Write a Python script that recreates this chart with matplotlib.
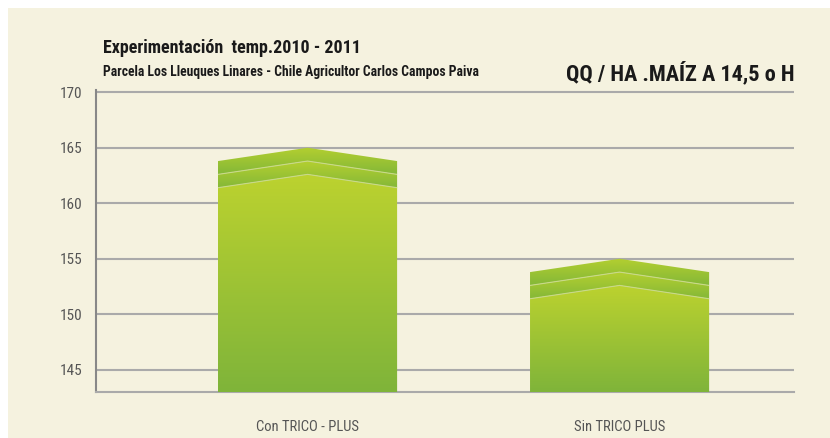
#!/usr/bin/env python3
"""Bar chart: QQ / HA maiz, con y sin TRICO-PLUS (temp. 2010 - 2011)."""

import numpy as np
import matplotlib

matplotlib.use("Agg")
import matplotlib.pyplot as plt
from matplotlib import font_manager
from matplotlib.colors import LinearSegmentedColormap
from matplotlib.patches import Polygon, Rectangle

categories = ["Con TRICO - PLUS", "Sin TRICO PLUS"]
values = [165.0, 155.0]
y_ticks = [145, 150, 155, 160, 165, 170]

title = "Experimentación  temp.2010 - 2011"
subtitle = "Parcela Los Lleuques Linares - Chile Agricultor Carlos Campos Paiva"
unit_title = "QQ / HA .MAÍZ A 14,5 o H"

BG = "#f5f2df"
GRID = "#aaaaaa"
N_BANDS = 2
BEVEL = 1.2  # drop of each chevron layer, data units
BAR_W = 0.574


def _pick_font() -> str:
    names = {f.name for f in font_manager.fontManager.ttflist}
    for name in ["Roboto Condensed", "Liberation Sans Narrow", "DejaVu Sans Condensed"]:
        if name in names:
            return name
    return "DejaVu Sans"


FONT = _pick_font()
plt.rcParams["font.family"] = [FONT, "DejaVu Sans"]


def _grad_fill(ax, verts, top_col, bot_col, y0, y1, z):
    poly = Polygon(verts, closed=True, facecolor="none", edgecolor="none")
    ax.add_patch(poly)
    xs = [v[0] for v in verts]
    cmap = LinearSegmentedColormap.from_list("g", [bot_col, top_col])
    grad = np.linspace(0, 1, 256).reshape(-1, 1)
    im = ax.imshow(grad, cmap=cmap, origin="lower", aspect="auto",
                   extent=(min(xs), max(xs), y0, y1), zorder=z,
                   interpolation="bilinear")
    im.set_clip_path(poly)


fig = plt.figure(figsize=(8.3, 4.38), dpi=100)
fig.patch.set_facecolor("white")
fig.add_artist(Rectangle((8 / 830, 0), 1, 1 - 8 / 438, transform=fig.transFigure,
                         facecolor=BG, edgecolor="none", zorder=-10))

ax = fig.add_axes([96 / 830, 1 - 392 / 438, 698 / 830, 302 / 438])
ax.set_facecolor(BG)
ax.set_xlim(-0.678, 1.559)
ax.set_ylim(143.0, 170.2)
bottom = ax.get_ylim()[0]

for i, v in enumerate(values):
    xl, xr = i - BAR_W / 2, i + BAR_W / 2
    body_peak = v - N_BANDS * BEVEL
    body_side = body_peak - BEVEL
    _grad_fill(ax, [(xl, bottom), (xr, bottom), (xr, body_side), (i, body_peak), (xl, body_side)],
               "#bcd22f", "#7fb43a", bottom, body_peak, 3)
    for k in range(N_BANDS):
        peak_hi = v - k * BEVEL
        peak_lo = peak_hi - BEVEL
        _grad_fill(ax, [(xl, peak_lo - BEVEL), (i, peak_lo), (xr, peak_lo - BEVEL),
                        (xr, peak_hi - BEVEL), (i, peak_hi), (xl, peak_hi - BEVEL)],
                   "#b4cf30", "#84b838", peak_lo - BEVEL, peak_hi, 3)
        ax.plot([xl, i, xr], [peak_lo - BEVEL, peak_lo, peak_lo - BEVEL],
                color="#c9d98a", lw=0.8, zorder=4, solid_capstyle="butt")

ax.set_yticks(y_ticks)
ax.set_xticks(range(len(categories)))
ax.set_xticklabels(categories)
ax.grid(axis="y", color=GRID, lw=1.5, zorder=1)
ax.set_axisbelow(True)
ax.tick_params(length=0, labelcolor="#555555", labelsize=11)
ax.tick_params(axis="y", pad=10)
ax.tick_params(axis="x", pad=20, labelsize=10.5)
for side in ["top", "right"]:
    ax.spines[side].set_visible(False)
ax.spines["left"].set_color("#888888")
ax.spines["left"].set_linewidth(1.5)
ax.spines["bottom"].set_color(GRID)
ax.spines["bottom"].set_linewidth(1.5)

fig.text(103 / 830, 1 - 53 / 438, title, fontsize=13, fontweight="bold",
         color="#1a1a1a", va="baseline")
fig.text(103 / 830, 1 - 76 / 438, subtitle, fontsize=9.8, fontweight="bold",
         color="#1a1a1a", va="baseline")
fig.text(794 / 830, 1 - 80 / 438, unit_title, fontsize=16, fontweight="bold",
         color="#1a1a1a", va="baseline", ha="right")

fig.savefig("out.png", dpi=100, facecolor=fig.get_facecolor())
